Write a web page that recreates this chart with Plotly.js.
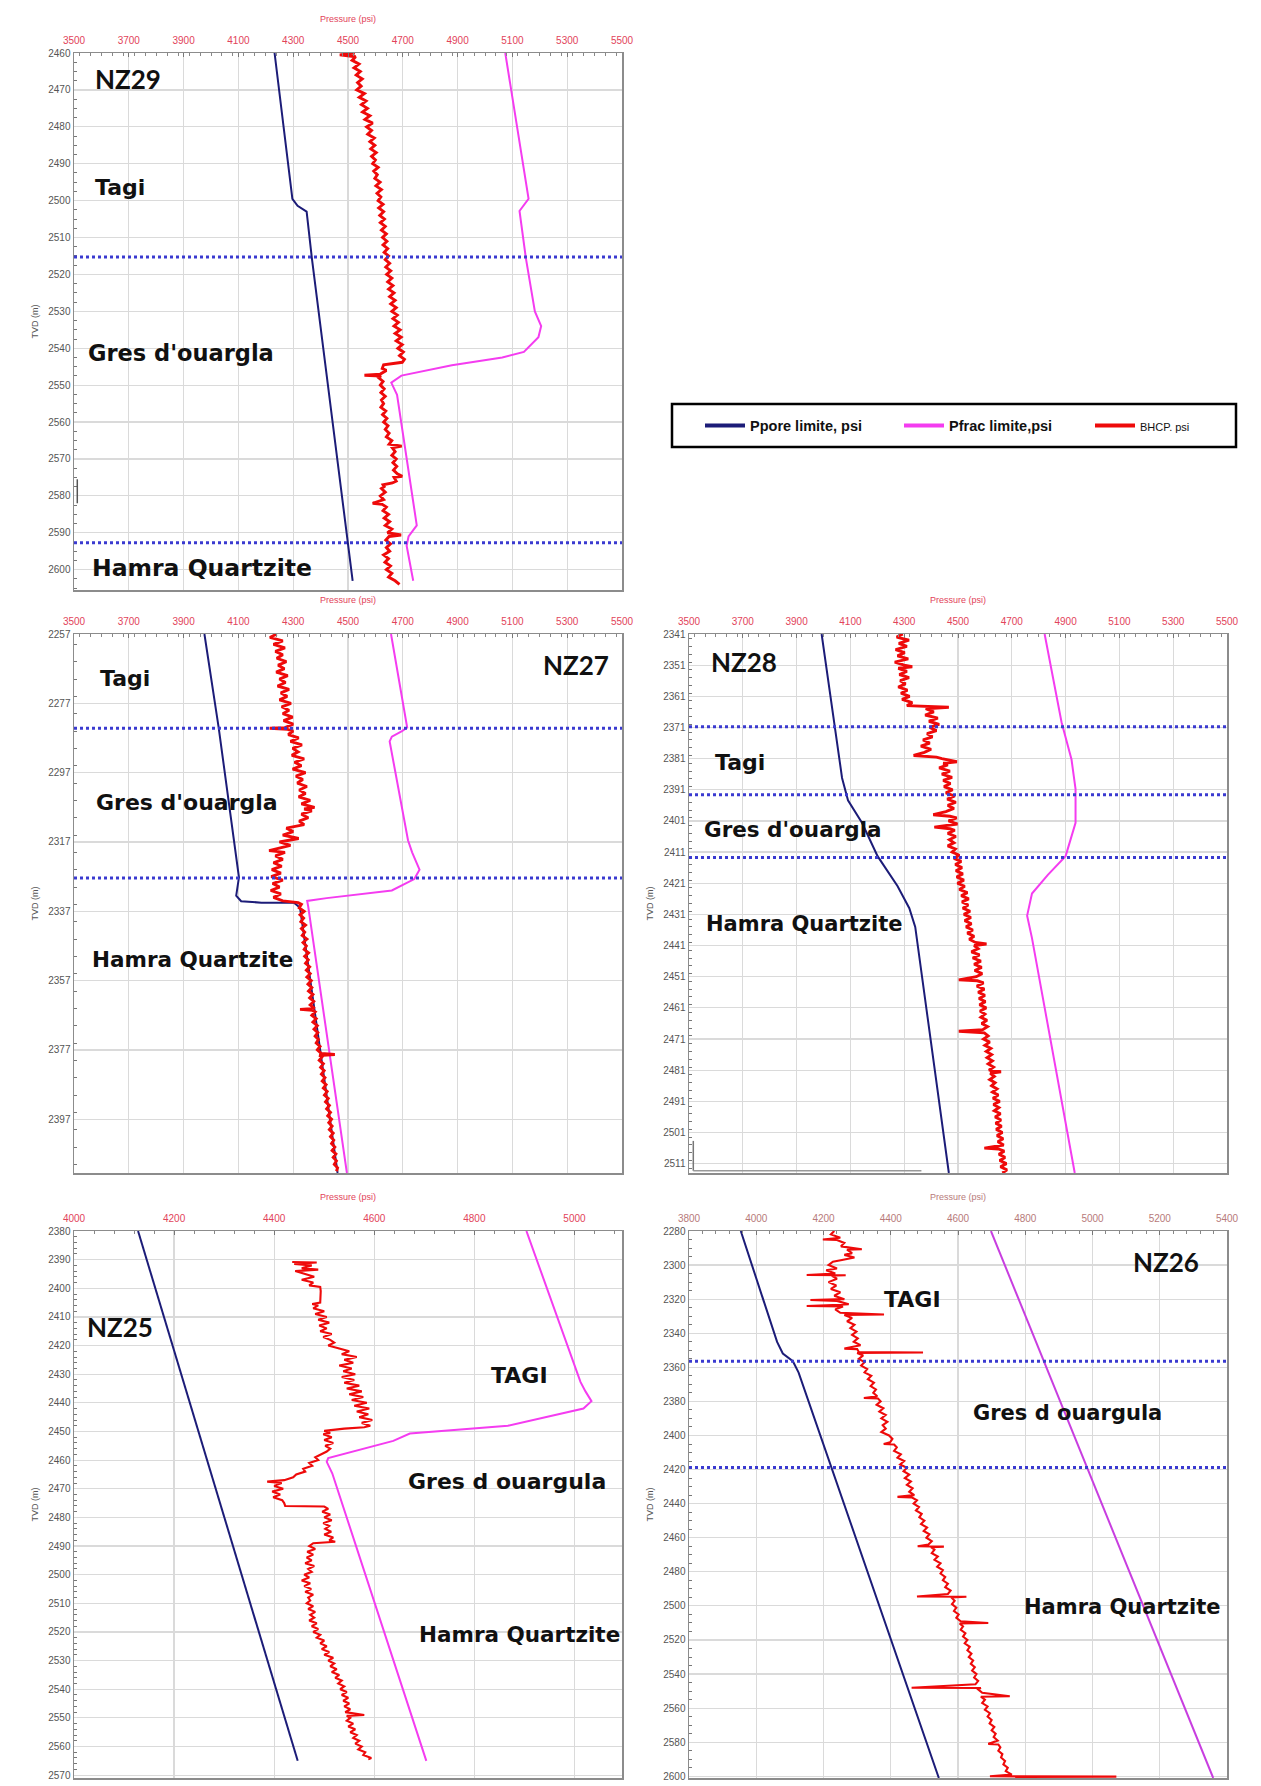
<!DOCTYPE html>
<html><head><meta charset="utf-8">
<script src="https://cdn.plot.ly/plotly-3.0.1.min.js"></script>
<style>html,body{margin:0;padding:0;background:#fff}#chart{width:1261px;height:1786px}</style>
</head><body><div id="chart"></div>
<script>
// ---------- DATA (depth m TVD, pressure psi) ----------
const nz29Ppore = [[2460,4232],[2499.5,4297],[2501.4,4316],[2503,4349],[2515.5,4368],[2603,4517]];
const nz29Pfrac = [[2460,5074],[2499.5,5159],[2502.8,5126],[2515.5,5149],[2530,5182],[2534,5205],[2537,5195],[2541,5142],[2542.5,5063],[2544.6,4879],[2547.4,4695],[2549.3,4658],[2552.6,4679],[2586.4,4747],[2588,4751],[2591,4721],[2593.5,4714],[2603,4738]];
const nz29Bhcp = [[2460,4525],[2460.5,4470],[2461,4528],[2462,4515],[2463,4540],[2464,4522],[2465,4545],[2466,4530],[2467,4552],[2468,4535],[2469,4548],[2470,4532],[2471,4560],[2472,4541],[2473,4566],[2474,4549],[2475,4571],[2476,4553],[2477,4580],[2478,4562],[2479,4590],[2480,4568],[2481,4586],[2482,4572],[2483,4596],[2484,4580],[2485,4598],[2486,4583],[2487,4603],[2488,4586],[2489,4600],[2490,4590],[2491,4610],[2492,4594],[2493,4607],[2494,4598],[2495,4617],[2496,4602],[2497,4622],[2498,4606],[2499,4620],[2500,4610],[2501,4628],[2502,4612],[2503,4630],[2504,4616],[2505,4633],[2506,4618],[2507,4636],[2508,4622],[2509,4640],[2510,4626],[2511,4642],[2512,4628],[2513,4645],[2514,4632],[2515,4648],[2516,4636],[2517,4652],[2518,4638],[2519,4656],[2520,4641],[2521,4660],[2522,4645],[2523,4664],[2524,4648],[2525,4668],[2526,4652],[2527,4672],[2528,4656],[2529,4676],[2530,4660],[2531,4680],[2532,4664],[2533,4684],[2534,4668],[2535,4690],[2536,4672],[2537,4694],[2538,4676],[2539,4698],[2540,4682],[2541,4702],[2542,4688],[2543,4706],[2543.8,4698],[2544.5,4630],[2545.5,4625],[2546,4640],[2547,4618],[2547.3,4560],[2547.5,4620],[2548,4612],[2549,4628],[2550,4618],[2551,4632],[2552,4620],[2553,4636],[2554,4622],[2555,4630],[2556,4620],[2557,4638],[2558,4626],[2559,4642],[2560,4630],[2561,4646],[2562,4636],[2563,4650],[2564,4640],[2565,4660],[2566,4650],[2566.5,4696],[2567,4662],[2568,4672],[2569,4660],[2570,4676],[2571,4664],[2572,4678],[2573,4666],[2574,4680],[2574.7,4698],[2575,4668],[2576,4676],[2576.5,4662],[2577,4628],[2577.5,4632],[2578,4622],[2579,4636],[2580,4618],[2581,4630],[2582,4590],[2582.3,4625],[2583,4640],[2584,4628],[2585,4648],[2586,4632],[2587,4652],[2588,4636],[2589,4660],[2590,4644],[2590.6,4694],[2591,4650],[2592,4638],[2593,4655],[2594,4640],[2595,4652],[2596,4630],[2597,4648],[2598,4635],[2599,4655],[2600,4640],[2601,4660],[2602,4648],[2603,4672],[2604,4688]];
const nz29Tops = [2515.3, 2592.7];

const nz27Ppore = [[2257,3976],[2284,4028],[2327.2,4102],[2332.5,4092],[2334.1,4110],[2334.5,4184],[2334.5,4303],[2336,4325],[2412.5,4462]];
const nz27Pfrac = [[2257,4657],[2284,4716],[2285,4697],[2286.6,4660],[2288,4652],[2316.5,4719],[2320,4734],[2325,4761],[2327.7,4742],[2331,4660],[2333.2,4422],[2334,4351],[2335.7,4355],[2412.5,4496]];
const nz27Bhcp = [[2257,4240],[2258,4215],[2259,4262],[2260,4228],[2261,4270],[2262,4235],[2263,4262],[2264,4240],[2265,4275],[2266,4245],[2267,4268],[2268,4238],[2269,4280],[2270,4250],[2271,4272],[2272,4243],[2273,4285],[2274,4255],[2275,4278],[2276,4250],[2277,4292],[2278,4258],[2279,4285],[2280,4262],[2281,4298],[2282,4265],[2283,4300],[2284,4270],[2284.2,4214],[2284.5,4280],[2285,4300],[2286,4282],[2287,4320],[2288,4290],[2289,4332],[2290,4298],[2291,4318],[2292,4295],[2293,4340],[2294,4305],[2295,4330],[2296,4298],[2297,4345],[2298,4310],[2299,4335],[2300,4315],[2301,4350],[2302,4322],[2303,4345],[2304,4320],[2305,4362],[2306,4330],[2307,4378],[2307.5,4340],[2308,4368],[2309,4330],[2310,4355],[2311,4322],[2312,4340],[2313,4275],[2314,4300],[2315,4262],[2316,4320],[2317,4250],[2318,4290],[2319,4240],[2319.5,4212],[2320,4270],[2321,4235],[2322,4262],[2323,4228],[2324,4258],[2325,4222],[2326,4255],[2327,4220],[2328,4262],[2329,4225],[2330,4250],[2331,4218],[2332,4255],[2333,4228],[2334,4262],[2334.5,4318],[2335,4330],[2336,4322],[2337,4340],[2338,4325],[2339,4338],[2340,4328],[2341,4345],[2342,4330],[2343,4342],[2344,4333],[2345,4350],[2346,4336],[2347,4348],[2348,4340],[2349,4356],[2350,4342],[2351,4355],[2352,4345],[2353,4360],[2354,4348],[2355,4362],[2356,4350],[2357,4366],[2358,4354],[2359,4368],[2360,4356],[2361,4372],[2362,4360],[2363,4375],[2364,4362],[2365,4378],[2365.3,4325],[2365.6,4370],[2366,4380],[2367,4368],[2368,4384],[2369,4372],[2370,4388],[2371,4376],[2372,4390],[2373,4380],[2374,4392],[2375,4384],[2376,4398],[2377,4388],[2378,4402],[2378.3,4452],[2378.6,4395],[2379,4405],[2380,4395],[2381,4410],[2382,4400],[2383,4413],[2384,4403],[2385,4416],[2386,4406],[2387,4420],[2388,4410],[2389,4424],[2390,4414],[2391,4428],[2392,4418],[2393,4432],[2394,4422],[2395,4436],[2396,4426],[2397,4440],[2398,4430],[2399,4442],[2400,4432],[2401,4446],[2402,4436],[2403,4448],[2404,4440],[2405,4452],[2406,4442],[2407,4456],[2408,4446],[2409,4458],[2410,4450],[2411,4462],[2412,4458]];
const nz27Tops = [2284.2, 2327.4];

const nz28Ppore = [[2341,3993],[2370.5,4040],[2387.2,4069],[2394.4,4091],[2401.6,4143],[2412.3,4201],[2421.9,4275],[2429,4319],[2435,4341],[2514,4466]];
const nz28Pfrac = [[2341,4822],[2369.3,4885],[2381.3,4922],[2390.8,4937],[2401.6,4937],[2412.3,4900],[2418.3,4834],[2424.3,4775],[2431.4,4757],[2438.6,4775],[2514,4934]];
const nz28Bhcp = [[2341,4295],[2342,4272],[2343,4318],[2344,4280],[2345,4310],[2346,4268],[2347,4302],[2348,4275],[2349,4315],[2350,4265],[2351,4300],[2351.5,4330],[2352,4278],[2353,4310],[2354,4282],[2355,4318],[2356,4285],[2357,4305],[2358,4278],[2359,4312],[2360,4288],[2361,4320],[2362,4292],[2363,4330],[2364,4310],[2364.5,4466],[2365,4380],[2366,4410],[2367,4378],[2368,4425],[2369,4392],[2370,4430],[2371,4395],[2372,4420],[2373,4385],[2374,4405],[2375,4370],[2376,4395],[2377,4362],[2378,4400],[2379,4375],[2380,4335],[2380.5,4420],[2381,4440],[2382,4496],[2382.5,4445],[2383,4462],[2384,4430],[2385,4470],[2386,4440],[2387,4478],[2388,4445],[2389,4472],[2390,4448],[2391,4480],[2392,4455],[2393,4488],[2394,4460],[2395,4492],[2396,4462],[2397,4485],[2398,4455],[2399,4408],[2399.5,4470],[2400,4495],[2401,4465],[2402,4498],[2403,4412],[2403.5,4470],[2404,4488],[2405,4462],[2406,4492],[2407,4468],[2408,4485],[2409,4462],[2410,4490],[2411,4478],[2412,4505],[2413,4485],[2414,4512],[2415,4490],[2416,4515],[2417,4492],[2418,4518],[2419,4495],[2420,4522],[2421,4498],[2422,4525],[2423,4505],[2424,4535],[2425,4512],[2426,4540],[2427,4515],[2428,4538],[2429,4518],[2430,4545],[2431,4522],[2432,4548],[2433,4525],[2434,4550],[2435,4530],[2436,4555],[2437,4535],[2438,4560],[2439,4542],[2440,4565],[2440.5,4606],[2441,4560],[2442,4575],[2443,4550],[2444,4580],[2445,4555],[2446,4585],[2447,4560],[2448,4588],[2449,4562],[2450,4590],[2451,4568],[2452,4503],[2452.3,4572],[2453,4595],[2454,4570],[2455,4598],[2456,4575],[2457,4600],[2458,4578],[2459,4602],[2460,4580],[2461,4605],[2462,4582],[2463,4600],[2464,4585],[2465,4608],[2466,4588],[2467,4610],[2468,4592],[2468.5,4503],[2469,4598],[2470,4612],[2471,4595],[2472,4618],[2473,4600],[2474,4622],[2475,4605],[2476,4625],[2477,4608],[2478,4628],[2479,4612],[2480,4632],[2481,4615],[2481.5,4660],[2482,4620],[2483,4635],[2484,4618],[2485,4638],[2486,4625],[2487,4645],[2488,4628],[2489,4650],[2490,4630],[2491,4655],[2492,4632],[2493,4652],[2494,4635],[2495,4658],[2496,4638],[2497,4660],[2498,4640],[2499,4662],[2500,4642],[2501,4665],[2502,4645],[2503,4668],[2504,4648],[2505,4670],[2506,4598],[2506.3,4650],[2507,4672],[2508,4652],[2509,4675],[2510,4655],[2511,4680],[2512,4658],[2513,4682],[2514,4665]];
const nz28Tops = [2370.8, 2392.6, 2412.7];

const nz25Ppore = [[2380,4128],[2565,4447]];
const nz25Pfrac = [[2380,4904],[2432.7,5012],[2436,5022],[2439.4,5034],[2442,5018],[2448,4867],[2450.7,4671],[2453.3,4638],[2459.3,4508],[2460.6,4505],[2464.6,4516],[2565,4704]];
const nz25Bhcp = [[2390.8,4436],[2391,4485],[2391.5,4440],[2392,4475],[2393,4455],[2393.5,4488],[2394,4442],[2395,4462],[2396,4480],[2397,4455],[2398,4478],[2399,4470],[2399.5,4492],[2401,4493],[2403,4493],[2405,4492],[2405.5,4476],[2406,4488],[2407,4478],[2408,4500],[2409,4482],[2410,4505],[2411,4488],[2412,4510],[2413,4490],[2414,4505],[2415,4492],[2416,4515],[2417,4498],[2418,4512],[2419,4520],[2420,4508],[2421,4530],[2422,4550],[2423,4535],[2424,4565],[2425,4540],[2426,4558],[2427,4530],[2428,4555],[2429,4538],[2430,4562],[2431,4535],[2432,4560],[2433,4540],[2434,4570],[2435,4545],[2436,4575],[2437,4550],[2438,4578],[2439,4555],[2440,4585],[2441,4560],[2442,4590],[2443,4565],[2444,4588],[2445,4570],[2446,4596],[2447,4575],[2448,4592],[2448.5,4580],[2449,4540],[2449.8,4500],[2450.5,4512],[2451,4498],[2452,4515],[2453,4500],[2454,4518],[2455,4502],[2456,4512],[2457,4505],[2458,4494],[2459,4482],[2460,4488],[2461,4470],[2462,4476],[2463,4458],[2464,4462],[2465,4444],[2466,4438],[2467,4420],[2467.5,4386],[2468,4415],[2469,4400],[2470,4418],[2471,4396],[2472,4412],[2473,4398],[2474,4416],[2475,4420],[2476,4422],[2476.2,4500],[2477,4508],[2478,4496],[2479,4512],[2480,4500],[2481,4515],[2482,4498],[2483,4510],[2484,4502],[2485,4514],[2486,4500],[2487,4518],[2488,4510],[2488.5,4522],[2489,4478],[2490,4470],[2491,4482],[2492,4466],[2493,4478],[2494,4465],[2495,4475],[2496,4462],[2497,4480],[2498,4468],[2499,4475],[2500,4460],[2501,4470],[2502,4455],[2503,4472],[2504,4460],[2505,4474],[2506,4462],[2507,4478],[2508,4468],[2509,4472],[2510,4465],[2511,4478],[2512,4468],[2513,4482],[2514,4472],[2515,4480],[2516,4470],[2517,4485],[2518,4475],[2519,4488],[2520,4478],[2521,4492],[2522,4485],[2523,4500],[2524,4492],[2525,4505],[2526,4495],[2527,4510],[2528,4500],[2529,4518],[2530,4508],[2531,4520],[2532,4512],[2533,4525],[2534,4515],[2535,4530],[2536,4522],[2537,4535],[2538,4528],[2539,4540],[2540,4532],[2541,4545],[2542,4535],[2543,4548],[2544,4538],[2545,4550],[2546,4540],[2547,4552],[2548,4542],[2549,4580],[2549.3,4545],[2550,4552],[2551,4545],[2552,4558],[2553,4548],[2554,4562],[2555,4552],[2556,4565],[2557,4558],[2558,4570],[2559,4562],[2560,4575],[2561,4568],[2562,4582],[2563,4578],[2564,4594],[2564.5,4588]];
const nz25Tops = [];

const nz26Ppore = [[2280,3954],[2345.1,4062],[2351.9,4079],[2356.4,4109],[2363.1,4126],[2601,4543]];
const nz26Pfrac = [[2280,4698],[2601,5359]];
const nz26Bhcp = [[2280,4232],[2282,4222],[2284,4250],[2285,4198],[2285.3,4240],[2287,4262],[2289,4252],[2290,4282],[2290.7,4314],[2291,4270],[2293,4285],[2294,4262],[2295.5,4292],[2297,4255],[2298,4228],[2300,4215],[2302,4240],[2303,4208],[2305,4235],[2305.8,4150],[2306,4266],[2306.3,4225],[2308,4240],[2310,4215],[2312,4238],[2314,4222],[2316,4250],[2318,4232],[2320,4262],[2320.5,4161],[2321,4240],[2323,4275],[2323.5,4228],[2324,4150],[2324.3,4258],[2326,4235],[2328,4250],[2329,4380],[2329.3,4262],[2331,4285],[2333,4270],[2335,4292],[2337,4280],[2339,4298],[2341,4285],[2343,4302],[2345,4290],[2347,4310],[2349,4262],[2349.3,4300],[2351,4305],[2351.3,4496],[2351.6,4300],[2353,4318],[2355,4305],[2357,4322],[2359,4312],[2361,4330],[2363,4322],[2365,4342],[2367,4332],[2369,4350],[2371,4340],[2373,4356],[2375,4348],[2377,4360],[2378,4320],[2378.3,4362],[2380,4370],[2382,4358],[2384,4378],[2386,4366],[2388,4385],[2390,4372],[2392,4390],[2394,4376],[2396,4385],[2398,4372],[2400,4395],[2402,4405],[2404,4398],[2405,4379],[2405.3,4410],[2407,4418],[2409,4410],[2411,4430],[2413,4420],[2415,4440],[2417,4428],[2419,4448],[2421,4438],[2423,4455],[2425,4442],[2427,4460],[2429,4448],[2431,4465],[2433,4455],[2435,4470],[2436,4420],[2436.3,4462],[2438,4478],[2440,4468],[2442,4484],[2444,4475],[2446,4492],[2448,4485],[2450,4500],[2452,4490],[2454,4508],[2456,4498],[2458,4515],[2460,4506],[2462,4522],[2464,4512],[2465,4480],[2465.2,4558],[2465.5,4520],[2467,4530],[2469,4522],[2471,4540],[2473,4530],[2475,4548],[2477,4538],[2479,4555],[2481,4548],[2483,4562],[2485,4555],[2487,4570],[2489,4562],[2491,4578],[2493,4570],[2494.5,4478],[2494.6,4625],[2495,4580],[2497,4590],[2499,4582],[2501,4595],[2503,4588],[2505,4602],[2507,4595],[2509,4608],[2510,4690],[2510.3,4605],[2512,4615],[2514,4608],[2516,4622],[2518,4615],[2520,4628],[2522,4620],[2524,4635],[2526,4628],[2528,4640],[2530,4632],[2532,4645],[2534,4638],[2536,4650],[2538,4642],[2540,4655],[2542,4648],[2544,4660],[2546,4652],[2548,4462],[2548.2,4668],[2549,4660],[2551,4672],[2553,4754],[2553.3,4668],[2555,4680],[2557,4672],[2559,4688],[2561,4680],[2563,4695],[2565,4688],[2567,4700],[2569,4694],[2571,4708],[2573,4700],[2575,4712],[2577,4706],[2579,4718],[2581,4690],[2581.3,4720],[2583,4726],[2585,4720],[2587,4732],[2589,4728],[2591,4740],[2593,4735],[2595,4748],[2597,4742],[2599,4760],[2600,4695],[2600.2,5071],[2600.4,4770]];
const nz26Tops = [2356.4, 2418.8];

// axis ranges / ticks per well
const wellNames = ['NZ29','NZ27','NZ28','NZ25','NZ26'];
const xRanges = [[3500,5500],[3500,5500],[3500,5500],[4000,5095],[3800,5400]];
const xTick0 = [3500,3500,3500,4000,3800];
const yRanges = [[2605.5,2460],[2412.5,2257],[2514,2341],[2571,2380],[2601,2280]];
const yTick0 = [2460,2257,2341,2380,2280];
const yDtick = [10,20,10,10,20];
const seriesNames = ['Ppore limite, psi','Pfrac limite,psi','BHCP. psi'];

// ---------- LAYOUT GEOMETRY ----------
const W = 1261, H = 1786;
const px = (a,b)=>[a/W, b/W];
const py = (top,bot)=>[1-bot/H, 1-top/H];
const doms = [
  {x:px(74,622), y:py(53,590)},
  {x:px(74,622), y:py(634,1173)},
  {x:px(689,1227), y:py(634,1173)},
  {x:px(74,622), y:py(1231,1778)},
  {x:px(689,1227), y:py(1231,1778)}
];
const COL = {pore:'#1c1c78', frac:'#f43cf0', bhcp:'#ee0a0a', top:'#3a3ad0'};
const bhcpWidth = [2.9, 2.9, 2.9, 2.1, 2.1];
const wells = [
  {pore:nz29Ppore, frac:nz29Pfrac, bhcp:nz29Bhcp, tops:nz29Tops},
  {pore:nz27Ppore, frac:nz27Pfrac, bhcp:nz27Bhcp, tops:nz27Tops},
  {pore:nz28Ppore, frac:nz28Pfrac, bhcp:nz28Bhcp, tops:nz28Tops},
  {pore:nz25Ppore, frac:nz25Pfrac, bhcp:nz25Bhcp, tops:nz25Tops},
  {pore:nz26Ppore, frac:nz26Pfrac, bhcp:nz26Bhcp, tops:nz26Tops}
];

const traces = [];
const layout = {
  width:W, height:H, margin:{l:0,r:0,t:0,b:0,autoexpand:false}, paper_bgcolor:'#fff', plot_bgcolor:'#fff',
  showlegend:true, hovermode:false, shapes:[], annotations:[]
};
wells.forEach((w,i)=>{
  const n = i===0 ? '' : String(i+1);
  const xa = 'x'+n, ya = 'y'+n;
  const fracCol = i===4 ? '#c83ee0' : COL.frac;
  traces.push({x:w.pore.map(p=>p[1]), y:w.pore.map(p=>p[0]), xaxis:xa, yaxis:ya, mode:'lines', line:{color:COL.pore,width:2}, showlegend:false});
  traces.push({x:w.frac.map(p=>p[1]), y:w.frac.map(p=>p[0]), xaxis:xa, yaxis:ya, mode:'lines', line:{color:fracCol,width:2}, showlegend:false});
  traces.push({x:w.bhcp.map(p=>p[1]), y:w.bhcp.map(p=>p[0]), xaxis:xa, yaxis:ya, mode:'lines', line:{color:COL.bhcp,width:bhcpWidth[i]}, showlegend:false});
  w.tops.forEach(d=>{
    layout.shapes.push({type:'line', xref:xa+' domain', yref:ya, x0:0, x1:1, y0:d, y1:d, line:{color:COL.top, width:3, dash:'dot'}});
  });
  const tickCol = i===4 ? '#b77a7a' : '#e2435a';
  layout['xaxis'+n] = {
    domain:doms[i].x, anchor:ya, side:'top', range:xRanges[i], tickmode:'linear', tick0:xTick0[i], dtick:200,
    showgrid:true, gridcolor:'#dadada', gridwidth:1.2, zeroline:false,
    showline:true, linecolor:'#8c8c8c', linewidth:1.5, mirror:true,
    ticks:'inside', ticklen:4, tickcolor:'#777',
    minor:{ticks:'inside', ticklen:2.5, tickcolor:'#888', dtick:40, showgrid:false},
    tickfont:{family:'Liberation Sans, Arial, sans-serif', size:10, color:tickCol},
    ticklabelstandoff:4,
    title:{text:'Pressure (psi)', font:{family:'Liberation Sans, Arial, sans-serif', size:9, color:tickCol}, standoff:10},
    automargin:false, fixedrange:true
  };
  layout['yaxis'+n] = {
    domain:doms[i].y, anchor:xa, range:yRanges[i], tickmode:'linear', tick0:yTick0[i], dtick:yDtick[i],
    showgrid:true, gridcolor:'#dadada', gridwidth:1.2, zeroline:false,
    showline:true, linecolor:'#8c8c8c', linewidth:1.5, mirror:true,
    ticks:'', minor:{ticks:'inside', ticklen:3, tickcolor:'#777', dtick: (i===3?2:yDtick[i]/4), showgrid:false},
    tickfont:{family:'Liberation Sans, Arial, sans-serif', size:10, color:'#555'},
    ticklabeloverflow:'allow',
    title:{text:'TVD (m)', font:{family:'Liberation Sans, Arial, sans-serif', size:9, color:'#555'}, standoff:8},
    automargin:false, fixedrange:true
  };
});

// legend entries: one library legend per item so each sits where the reference has it
const legIds = ['legend','legend2','legend3'];
const legX = [700, 899, 1090];
[COL.pore, COL.frac, COL.bhcp].forEach((c,k)=>{
  const nm = k<2 ? '<b>'+seriesNames[k]+'</b>' : '<span style="font-size:11px">'+seriesNames[k]+'</span>';
  traces.push({x:[null], y:[null], xaxis:'x', yaxis:'y', mode:'lines', line:{color:c,width:4}, name:nm, showlegend:true, legend:legIds[k]});
  layout[legIds[k]] = {x:legX[k]/W, y:1-425.5/H, xanchor:'left', yanchor:'middle', orientation:'h',
    bgcolor:'rgba(0,0,0,0)', borderwidth:0, itemwidth:40,
    font:{family:'Liberation Sans Narrow, Arial Narrow, sans-serif', size:14.5, color:'#111'}};
});
layout.shapes.push({type:'rect', xref:'paper', yref:'paper', x0:672/W, x1:1236/W, y0:1-447/H, y1:1-404/H, line:{color:'#000', width:2.5}, fillcolor:'rgba(0,0,0,0)'});
// small scan artefacts
layout.shapes.push({type:'line', xref:'x3 domain', yref:'y3', x0:0.008, x1:0.008, y0:2503.7, y1:2513.3, line:{color:'#777',width:1.5}});
layout.shapes.push({type:'line', xref:'x3 domain', yref:'y3', x0:0.008, x1:0.432, y0:2513.3, y1:2513.3, line:{color:'#999',width:1.5}});
layout.shapes.push({type:'line', xref:'x domain', yref:'y', x0:0.006, x1:0.006, y0:2575.5, y1:2582, line:{color:'#555',width:1.5}});

// text labels
const FB = 'DejaVu Sans, Verdana, sans-serif';
const FN = 'Lato, Calibri, sans-serif';
function lab(t, x, y, ax, size, fam, anchor){
  layout.annotations.push({text:'<b>'+t+'</b>', x:x, y:y, xref:'x'+ax, yref:'y'+ax, showarrow:false,
    xanchor:anchor||'left', yanchor:'middle', font:{family:fam, size:size, color:'#111'}});
}
lab('NZ29',3570,2467,'',26,FN);
lab('Tagi',3570,2496.5,'',22,FB);
lab("Gres d'ouargla",3543,2541.3,'',22.5,FB);
lab('Hamra Quartzite',3557,2599.6,'',23.5,FB);
lab('NZ27',5460,2265.8,'2',26,FN,'right');
lab('Tagi',3589,2269.8,'2',22,FB);
lab("Gres d'ouargla",3574,2305.6,'2',22,FB);
lab('Hamra Quartzite',3557,2351,'2',21.5,FB);
lab('NZ28',3576,2350,'3',26,FN);
lab('Tagi',3591,2382.2,'3',22,FB);
lab("Gres d'ouargla",3547,2403.6,'3',21.5,FB);
lab('Hamra Quartzite',3554,2434.2,'3',21,FB);
lab('NZ25',4022,2413.5,'4',26,FN);
lab('TAGI',4830,2430.3,'4',22,FB);
lab('Gres d ouargula',4663,2467.3,'4',22,FB);
lab('Hamra Quartzite',4686,2521,'4',21.5,FB);
lab('NZ26',5220,2298,'5',26,FN,'center');
lab('TAGI',4373,2320,'5',22,FB);
lab('Gres d ouargula',4640,2386.7,'5',21,FB);
lab('Hamra Quartzite',4789,2500.7,'5',21,FB);

Plotly.newPlot('chart', traces, layout, {staticPlot:true, displayModeBar:false});
</script>
</body></html>
